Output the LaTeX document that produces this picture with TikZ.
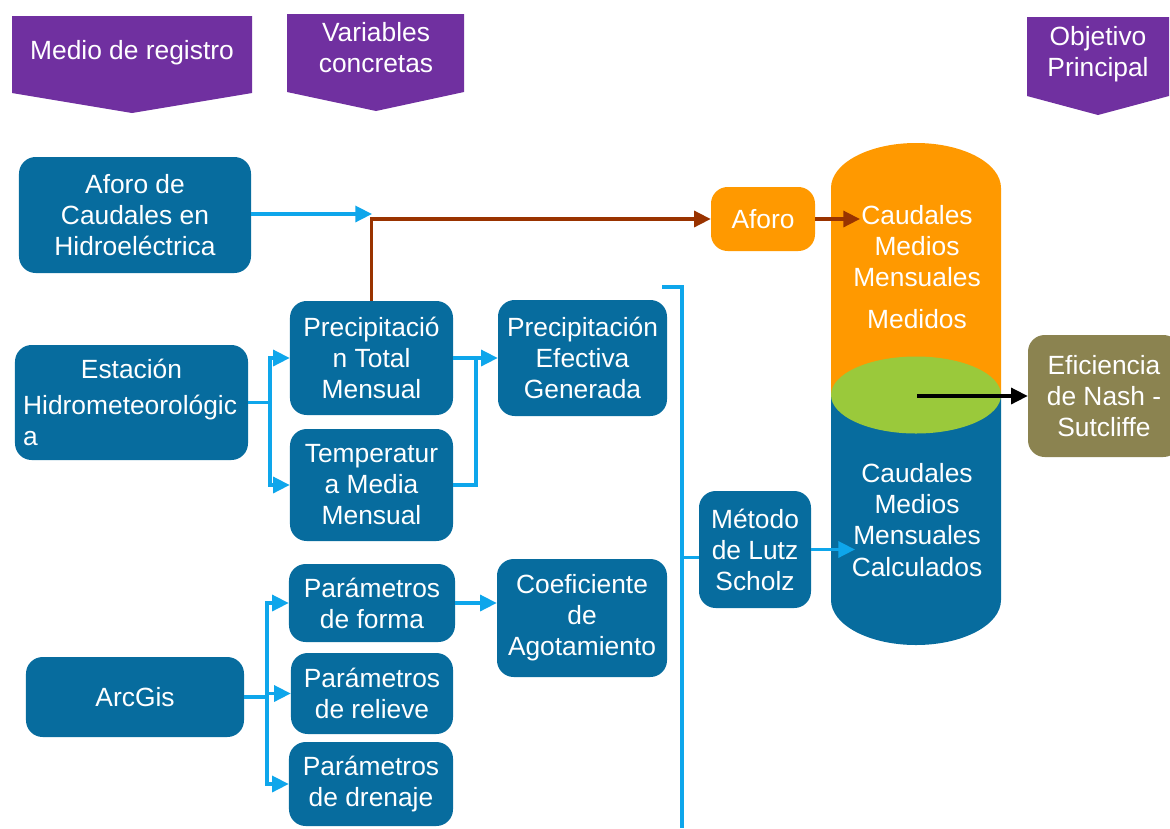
\documentclass[tikz,border=0pt]{standalone}
\usepackage{fontspec}
\setmainfont{Liberation Sans}
\usepackage{tikz}
\usetikzlibrary{arrows.meta,positioning,calc}
\definecolor{purp}{RGB}{112,48,160}
\definecolor{boxblue}{RGB}{7,108,158}
\definecolor{lineblue}{RGB}{14,166,235}
\definecolor{rust}{RGB}{153,51,0}
\definecolor{orng}{RGB}{255,153,0}
\definecolor{lime}{RGB}{154,201,59}
\definecolor{olive}{RGB}{139,131,80}
\begin{document}
\begin{tikzpicture}[x=0.03cm,y=-0.03cm,
        every node/.style={font=\fontsize{22.5}{26.5}\selectfont, text=white, align=center},
        box/.style={fill=boxblue, rounded corners=0.5cm, inner sep=1pt},
        hdr/.style={fill=purp},
        wire/.style={draw=lineblue, line width=2.8pt},
        flow/.style={wire, -{Triangle[length=0.5cm,width=0.48cm]}},
        link/.style={draw=rust, line width=2.8pt, -{Triangle[length=0.5cm,width=0.48cm]}}]
    \useasboundingbox (0,0) rectangle (1170,828);
    % headers
    \fill[hdr] (12,16) -- (252,16) -- (252,93) -- (132,113) -- (12,93) -- cycle;
    \fill[hdr] (287,14) -- (464,14) -- (464,92) -- (376,111) -- (287,92) -- cycle;
    \fill[hdr] (1027,17) -- (1169,17) -- (1169,96) -- (1098,115) -- (1027,96) -- cycle;
    \node (hreg) at (132,53) {Medio de registro};
    \node (hvar) at (376,48) {Variables\\concretas};
    \node (hobj) at (1098,54) {Objetivo\\Principal};
    % sources
    \node[box, minimum width=6.96cm, minimum height=3.48cm] (aforoc) at (135,215) {Aforo de\\Caudales en\\Hidroeléctrica};
    \node[box, minimum width=6.99cm, minimum height=3.45cm, text width=6.5cm, align=left] (estacion) at (131.5,402.5)
        {\centering Estación\par\vspace{4pt}\raggedright Hidrometeorológic\\a};
    \node[box, minimum width=6.54cm, minimum height=2.4cm] (arcgis) at (135,697) {ArcGis};
    % variables
    \node[box, minimum width=4.89cm, minimum height=3.42cm] (ptotal) at (371.5,358) {Precipitació\\n Total\\Mensual};
    \node[box, minimum width=4.89cm, minimum height=3.36cm] (temp) at (371.5,485) {Temperatur\\a Media\\Mensual};
    \node[box, minimum width=4.98cm, minimum height=2.34cm] (forma) at (372,603) {Parámetros\\de forma};
    \node[box, minimum width=4.86cm, minimum height=2.43cm] (relieve) at (372,693.5) {Parámetros\\de relieve};
    \node[box, minimum width=4.92cm, minimum height=2.52cm] (drenaje) at (371,784) {Parámetros\\de drenaje};
    \node[box, minimum width=5.07cm, minimum height=3.48cm] (pefec) at (582.5,358) {Precipitación\\Efectiva\\Generada};
    \node[box, minimum width=5.1cm, minimum height=3.54cm] (coef) at (582,618) {Coeficiente\\de\\Agotamiento};
    \node[box, minimum width=3.36cm, minimum height=3.51cm] (metodo) at (755,549.5) {Método\\de Lutz\\Scholz};
    \node[box, fill=orng, minimum width=3.12cm, minimum height=1.92cm] (aforo) at (763,219) {Aforo};
    % cylinder
    \fill[orng] (831,188) arc[start angle=180, end angle=0, x radius=2.55cm, y radius=1.35cm] -- (1001,395) -- (831,395) -- cycle;
    \fill[boxblue] (831,395) -- (1001,395) -- (1001,600) arc[start angle=0, end angle=-180, x radius=2.55cm, y radius=1.35cm] -- cycle;
    \fill[lime] (916,395) ellipse[x radius=2.55cm, y radius=1.155cm];
    \node (medidos) at (917,267) {Caudales\\Medios\\Mensuales\\[9pt]Medidos};
    \node (calculados) at (917,520) {Caudales\\Medios\\Mensuales\\Calculados};
    \coordinate (medin) at (860,219);
    \coordinate (calcin) at (855,552);
    \coordinate (nashsrc) at (917,396);
    \node[box, fill=olive, minimum width=4.56cm, minimum height=3.66cm] (nash) at (1104,396) {Eficiencia\\de Nash -\\Sutcliffe};
    % junctions
    \coordinate (junc) at (372,214);
    \coordinate (fk1) at (270,402.5);
    \coordinate (fk2) at (476,358);
    \coordinate (fk3) at (267,697);
    \coordinate (brtop) at (662,287);
    \coordinate (brbot) at (682,828);
    % connectors
    \draw[flow] (aforoc.east |- junc) -- (junc);
    \draw[link] (ptotal.north) |- (aforo.west);
    \draw[link] (aforo.east) -- (medin);
    \draw[wire] (estacion.east) -- (fk1);
    \draw[flow] (fk1) |- (ptotal.west);
    \draw[flow] (fk1) |- (temp.west);
    \draw[flow] (ptotal.east) -- (pefec.west);
    \draw[wire] (temp.east) -| (fk2);
    \draw[wire] (arcgis.east) -- (fk3);
    \draw[flow] (fk3) |- (forma.west);
    \draw[flow] (fk3) |- (relieve.west);
    \draw[flow] (fk3) |- (drenaje.west);
    \draw[flow] (forma.east) -- (forma.east -| coef.west);
    \draw[wire] (brtop) -- (brtop -| brbot) -- (brbot);
    \draw[wire] ([yshift=-0.24cm]metodo.west -| brbot) -- ([yshift=-0.24cm]metodo.west);
    \draw[flow] (metodo.east) -- (metodo.east -| calcin);
    \draw[black, line width=2.8pt, -{Triangle[length=0.5cm,width=0.48cm]}] (nashsrc) -- (nash.west);
\end{tikzpicture}
\end{document}
